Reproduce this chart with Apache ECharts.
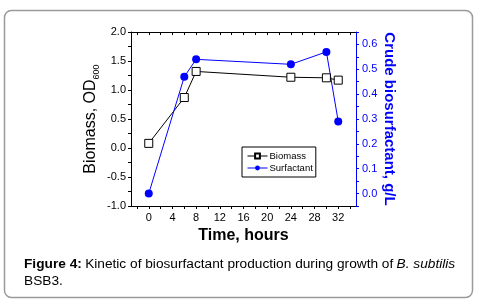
<!DOCTYPE html>
<html>
<head>
<meta charset="utf-8">
<script src="https://cdn.jsdelivr.net/npm/echarts@6/dist/echarts.min.js"></script>
<style>
  html, body { margin: 0; padding: 0; background: #fff; }
  #chart { width: 480px; height: 308px; }
</style>
</head>
<body>
<div id="chart"></div>
<script>
// sampling times (hours)
const hours = [0, 6, 8, 24, 30, 32]
// biomass OD600 (left axis)
const biomass = [0.08, 0.87, 1.32, 1.22, 1.21, 1.17]
// crude biosurfactant g/L (right axis)
const surfactant = [0.0, 0.47, 0.54, 0.52, 0.57, 0.29]

const xLabels = [0, 4, 8, 12, 16, 20, 24, 28, 32]
const xTicks = [-2, 0, 2, 4, 6, 8, 10, 12, 14, 16, 18, 20, 22, 24, 26, 28, 30, 32, 34]
const leftLabels = [-1, -0.5, 0, 0.5, 1, 1.5, 2]
const leftTicks = [-1, -0.75, -0.5, -0.25, 0, 0.25, 0.5, 0.75, 1, 1.25, 1.5, 1.75, 2]
const rightLabels = [0, 0.1, 0.2, 0.3, 0.4, 0.5, 0.6]
const rightTicks = [-0.05, 0, 0.05, 0.1, 0.15, 0.2, 0.25, 0.3, 0.35, 0.4, 0.45, 0.5, 0.55, 0.6, 0.65]

const FONT = 'Liberation Sans, Arial, sans-serif'
const BLUE = '#0000ff'

const pair = (xs, ys) => xs.map((x, i) => [x, ys[i]])

const chart = echarts.init(document.getElementById('chart'))
chart.setOption({
  animation: false,
  textStyle: { fontFamily: FONT },
  grid: { left: 131, right: 124, top: 32, bottom: 102, containLabel: false },
  legend: {
    orient: 'vertical',
    left: 242,
    top: 147,
    borderColor: '#000',
    borderWidth: 1,
    borderRadius: 0,
    padding: [4, 3, 4, 5],
    itemGap: 2,
    itemWidth: 20,
    itemHeight: 6,
    lineStyle: { width: 1 },
    textStyle: { fontFamily: FONT, fontSize: 9.5, color: '#000', padding: [0, 0, 0, -3] },
    data: ['Biomass', 'Surfactant']
  },
  xAxis: [
    {
      type: 'value',
      position: 'bottom',
      min: -3,
      max: 35,
      splitLine: { show: false },
      axisLine: { show: true, onZero: false, lineStyle: { color: '#000', width: 1 } },
      axisTick: { show: true, customValues: xTicks, length: 3, lineStyle: { color: '#000' } },
      axisLabel: { customValues: xLabels, color: '#000', fontSize: 11, margin: 6, fontFamily: FONT },
      name: 'Time, hours',
      nameLocation: 'middle',
      nameGap: 22,
      nameTextStyle: { fontSize: 16, fontWeight: 'bold', color: '#000', fontFamily: FONT }
    },
    {
      type: 'value',
      position: 'top',
      min: -3,
      max: 35,
      splitLine: { show: false },
      axisLine: { show: true, onZero: false, lineStyle: { color: '#000', width: 1 } },
      axisTick: { show: true, customValues: xTicks, inside: true, length: 3, lineStyle: { color: '#000' } },
      axisLabel: { show: false }
    }
  ],
  yAxis: [
    {
      type: 'value',
      position: 'left',
      min: -1,
      max: 2,
      splitLine: { show: false },
      axisLine: { show: true, onZero: false, lineStyle: { color: '#000', width: 1 } },
      axisTick: { show: true, customValues: leftTicks, length: 3, lineStyle: { color: '#000' } },
      axisLabel: {
        customValues: leftLabels,
        color: '#000',
        fontSize: 11,
        margin: 5,
        fontFamily: FONT,
        formatter: v => v.toFixed(1)
      },
      name: '{a|Biomass, OD}{s|600}',
      nameLocation: 'middle',
      nameGap: 30,
      nameTextStyle: {
        fontFamily: FONT,
        rich: {
          a: { fontSize: 16, color: '#000', fontFamily: FONT, lineHeight: 20 },
          s: { fontSize: 9, color: '#000', fontFamily: FONT, lineHeight: 20, verticalAlign: 'bottom', padding: [9, 0, 0, 0] }
        }
      }
    },
    {
      type: 'value',
      position: 'right',
      min: -0.05,
      max: 0.65,
      splitLine: { show: false },
      axisLine: { show: true, onZero: false, lineStyle: { color: BLUE, width: 1 } },
      axisTick: { show: true, customValues: rightTicks, length: 3, lineStyle: { color: BLUE } },
      axisLabel: {
        customValues: rightLabels,
        color: BLUE,
        fontSize: 11,
        margin: 6,
        fontFamily: FONT,
        formatter: v => v.toFixed(1)
      },
      name: 'Crude biosurfactant, g/L',
      nameLocation: 'middle',
      nameRotate: -90,
      nameGap: 26,
      nameTextStyle: { fontSize: 15, fontWeight: 'bold', color: BLUE, fontFamily: FONT }
    }
  ],
  series: [
    {
      name: 'Biomass',
      type: 'line',
      xAxisIndex: 0,
      yAxisIndex: 0,
      data: pair(hours, biomass),
      symbol: 'rect',
      symbolSize: 8,
      lineStyle: { color: '#000', width: 1 },
      itemStyle: { color: '#fff', borderColor: '#000', borderWidth: 1 }
    },
    {
      name: 'Surfactant',
      type: 'line',
      xAxisIndex: 0,
      yAxisIndex: 1,
      data: pair(hours, surfactant),
      symbol: 'circle',
      symbolSize: 8,
      lineStyle: { color: BLUE, width: 1 },
      itemStyle: { color: BLUE, borderColor: BLUE, borderWidth: 0 }
    }
  ],
  graphic: [
    {
      type: 'rect',
      shape: { x: 4.5, y: 10.5, width: 468, height: 287, r: 7 },
      style: { fill: 'none', stroke: '#9a9a9a', lineWidth: 1.5 },
      silent: true,
      z: -1
    },
    {
      type: 'text',
      left: 24,
      top: 257,
      style: {
        text: '{b|Figure 4:} {n|Kinetic of biosurfactant production during growth of} {i|B. subtilis}\n{n|BSB3.}',
        rich: {
          b: { fontFamily: FONT, fontSize: 13.7, fontWeight: 'bold', fill: '#000', lineHeight: 17 },
          n: { fontFamily: FONT, fontSize: 13.7, fill: '#000', lineHeight: 17 },
          i: { fontFamily: FONT, fontSize: 13.7, fontStyle: 'italic', fill: '#000', lineHeight: 17 }
        }
      }
    }
  ]
})
</script>
</body>
</html>
